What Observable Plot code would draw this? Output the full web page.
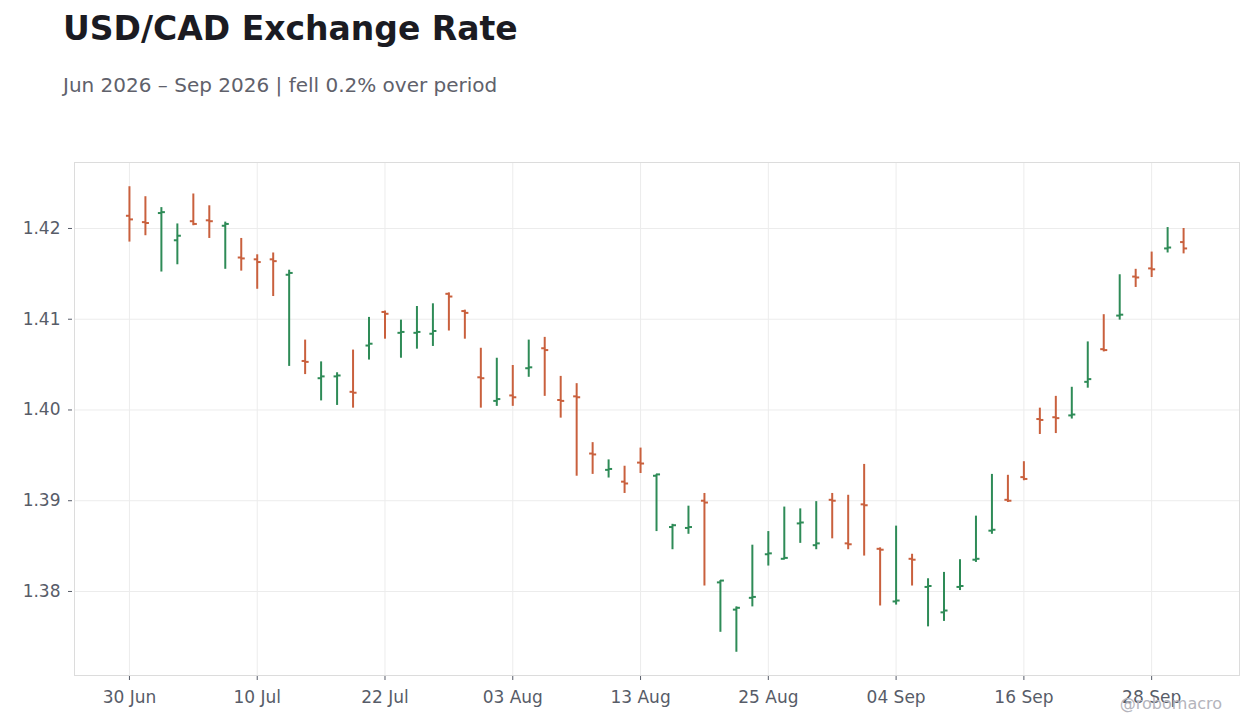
<!DOCTYPE html>
<html>
<head>
<meta charset="utf-8">
<script src="https://cdn.jsdelivr.net/npm/d3@7"></script>
<script src="https://cdn.jsdelivr.net/npm/@observablehq/plot@0.6"></script>
<style>
  html, body { margin: 0; padding: 0; background: #ffffff; }
  #wrap { position: relative; width: 1260px; height: 728px; overflow: hidden; font-family: "DejaVu Sans", sans-serif; }
  #title { position: absolute; left: 63px; top: 12px; font-size: 33px; line-height: 33px; font-weight: bold; color: #1b1b22; white-space: nowrap; }
  #subtitle { position: absolute; left: 63px; top: 75px; font-size: 20px; line-height: 20px; color: #60616b; white-space: nowrap; }
  #chart { position: absolute; left: 0; top: 130px; }
  #credit { position: absolute; right: 38px; top: 696px; font-size: 16px; line-height: 16px; color: #b4b4bc; white-space: nowrap; }
</style>
</head>
<body>
<div id="wrap">
  <div id="title">USD/CAD Exchange Rate</div>
  <div id="subtitle">Jun 2026 – Sep 2026 | fell 0.2% over period</div>
  <div id="chart"></div>
  <div id="credit">@robomacro</div>
</div>
<script>
const dates = [
  "2026-06-30",
  "2026-07-01","2026-07-02","2026-07-03","2026-07-06","2026-07-07","2026-07-08","2026-07-09","2026-07-10",
  "2026-07-13","2026-07-14","2026-07-15","2026-07-16","2026-07-17","2026-07-20","2026-07-21","2026-07-22",
  "2026-07-23","2026-07-24","2026-07-27","2026-07-28","2026-07-29","2026-07-30","2026-07-31",
  "2026-08-03","2026-08-04","2026-08-05","2026-08-06","2026-08-07","2026-08-10","2026-08-11","2026-08-12",
  "2026-08-13","2026-08-14","2026-08-17","2026-08-18","2026-08-19","2026-08-20","2026-08-21","2026-08-24",
  "2026-08-25","2026-08-26","2026-08-27","2026-08-28","2026-08-31",
  "2026-09-01","2026-09-02","2026-09-03","2026-09-04","2026-09-07","2026-09-08","2026-09-09","2026-09-10",
  "2026-09-11","2026-09-14","2026-09-15","2026-09-16","2026-09-17","2026-09-18","2026-09-21","2026-09-22",
  "2026-09-23","2026-09-24","2026-09-25","2026-09-28","2026-09-29","2026-09-30"
];
const opens = [
  1.4214,1.4207,1.4217,1.4187,1.4208,1.4209,1.4203,1.4168,1.4166,1.4166,
  1.4149,1.4054,1.4035,1.4037,1.4020,1.4071,1.4108,1.4085,1.4085,1.4084,
  1.4128,1.4109,1.4036,1.4010,1.4016,1.4046,1.4068,1.4011,1.4015,1.3952,
  1.3934,1.3921,1.3942,1.39275,1.3871,1.3870,1.3900,1.3810,1.3780,1.3793,
  1.3841,1.3836,1.3875,1.3851,1.3901,1.3853,1.3896,1.3847,1.3789,1.3836,
  1.3805,1.3777,1.3805,1.3835,1.3867,1.3901,1.3926,1.3990,1.3992,1.3994,
  1.4031,1.4067,1.4104,1.4147,1.4156,1.4178,1.4185
];
const highs = [
  1.4246,1.4235,1.4223,1.4205,1.4238,1.4225,1.4207,1.4189,1.4171,1.4173,
  1.4154,1.4077,1.4053,1.4041,1.4066,1.4102,1.4109,1.4099,1.4114,1.4117,
  1.4129,1.4110,1.4068,1.4057,1.4049,1.4077,1.4080,1.4037,1.4029,1.3964,
  1.3945,1.3938,1.3958,1.3929,1.3874,1.3894,1.3908,1.3812,1.3783,1.3851,
  1.3866,1.3893,1.3891,1.3899,1.3908,1.3906,1.3940,1.3848,1.3872,1.3841,
  1.3814,1.3821,1.3835,1.3883,1.3929,1.3928,1.3943,1.4002,1.4015,1.4025,
  1.4075,1.4105,1.4149,1.4155,1.4174,1.4201,1.4200
];
const lows = [
  1.4185,1.4192,1.4152,1.4160,1.4203,1.4189,1.4155,1.4153,1.4133,1.4125,
  1.4048,1.4039,1.4010,1.4005,1.4002,1.4055,1.4078,1.4057,1.4067,1.4070,
  1.4087,1.4078,1.4002,1.4004,1.4004,1.4036,1.4015,1.3991,1.3927,1.3929,
  1.3925,1.3908,1.3930,1.3866,1.3846,1.3863,1.3806,1.3755,1.3733,1.3783,
  1.3828,1.38355,1.3853,1.3846,1.3858,1.3846,1.3839,1.3784,1.3785,1.3806,
  1.3761,1.3767,1.3801,1.3832,1.3863,1.3898,1.3922,1.3973,1.3974,1.3990,
  1.4024,1.4064,1.4099,1.4135,1.4146,1.4173,1.4172
];
const closes = [
  1.4210,1.4206,1.4218,1.4192,1.4205,1.4208,1.4205,1.4167,1.4163,1.4164,
  1.4151,1.4053,1.4037,1.4038,1.4019,1.4073,1.4106,1.4086,1.4086,1.4087,
  1.4125,1.4107,1.4035,1.4012,1.4014,1.4047,1.4066,1.4010,1.4014,1.3951,
  1.3935,1.3919,1.3941,1.3929,1.3873,1.3871,1.3898,1.3812,1.3782,1.3794,
  1.3842,1.3837,1.3876,1.3853,1.3900,1.3852,1.3895,1.3846,1.3790,1.3835,
  1.3806,1.3779,1.3806,1.3836,1.3868,1.3900,1.3924,1.3989,1.3991,1.3995,
  1.4034,1.4066,1.4105,1.4146,1.4155,1.4179,1.4178
];
const tickIndex = [0, 8, 16, 24, 32, 40, 48, 56, 64];
const tickLabels = ["30 Jun", "10 Jul", "22 Jul", "03 Aug", "13 Aug", "25 Aug", "04 Sep", "16 Sep", "28 Sep"];
const yTicks = [1.38, 1.39, 1.40, 1.41, 1.42];

const UP = "#2e8b57";
const DOWN = "#c9603d";

const data = dates.map((d, i) => ({
  i, date: d, open: opens[i], high: highs[i], low: lows[i], close: closes[i]
}));
const up = data.filter(d => d.close >= d.open);
const down = data.filter(d => d.close < d.open);

function ohlc(rows, color) {
  return [
    Plot.ruleX(rows, {x: "i", y1: "low", y2: "high", stroke: color, strokeWidth: 2}),
    Plot.link(rows, {x1: d => d.i - 0.22, x2: d => d.i + 0.03, y1: "open", y2: "open", stroke: color, strokeWidth: 2}),
    Plot.link(rows, {x1: d => d.i - 0.03, x2: d => d.i + 0.22, y1: "close", y2: "close", stroke: color, strokeWidth: 2})
  ];
}

const chart = Plot.plot({
  width: 1260,
  height: 598,
  marginTop: 32,
  marginBottom: 53,
  marginLeft: 74,
  marginRight: 21,
  style: {fontFamily: "DejaVu Sans, sans-serif", fontSize: "17px", color: "#575c68", background: "transparent"},
  x: {domain: [-3.44, 69.5]},
  y: {domain: [1.37074, 1.42727]},
  marks: [
    Plot.gridX(tickIndex, {stroke: "#ececec", strokeOpacity: 1}),
    Plot.gridY(yTicks, {stroke: "#ececec", strokeOpacity: 1}),
    Plot.frame({stroke: "#dcdcdc"}),
    ...ohlc(down, DOWN),
    ...ohlc(up, UP),
    Plot.axisX(tickIndex, {
      tickSize: 4, tickPadding: 10, dy: 1,
      tickFormat: i => tickLabels[tickIndex.indexOf(i)],
      label: null
    }),
    Plot.axisY(yTicks, {
      tickSize: 4, tickPadding: 8, dx: -2,
      tickFormat: d3.format(".2f"),
      label: null
    })
  ]
});
document.getElementById("chart").appendChild(chart);
</script>
</body>
</html>
